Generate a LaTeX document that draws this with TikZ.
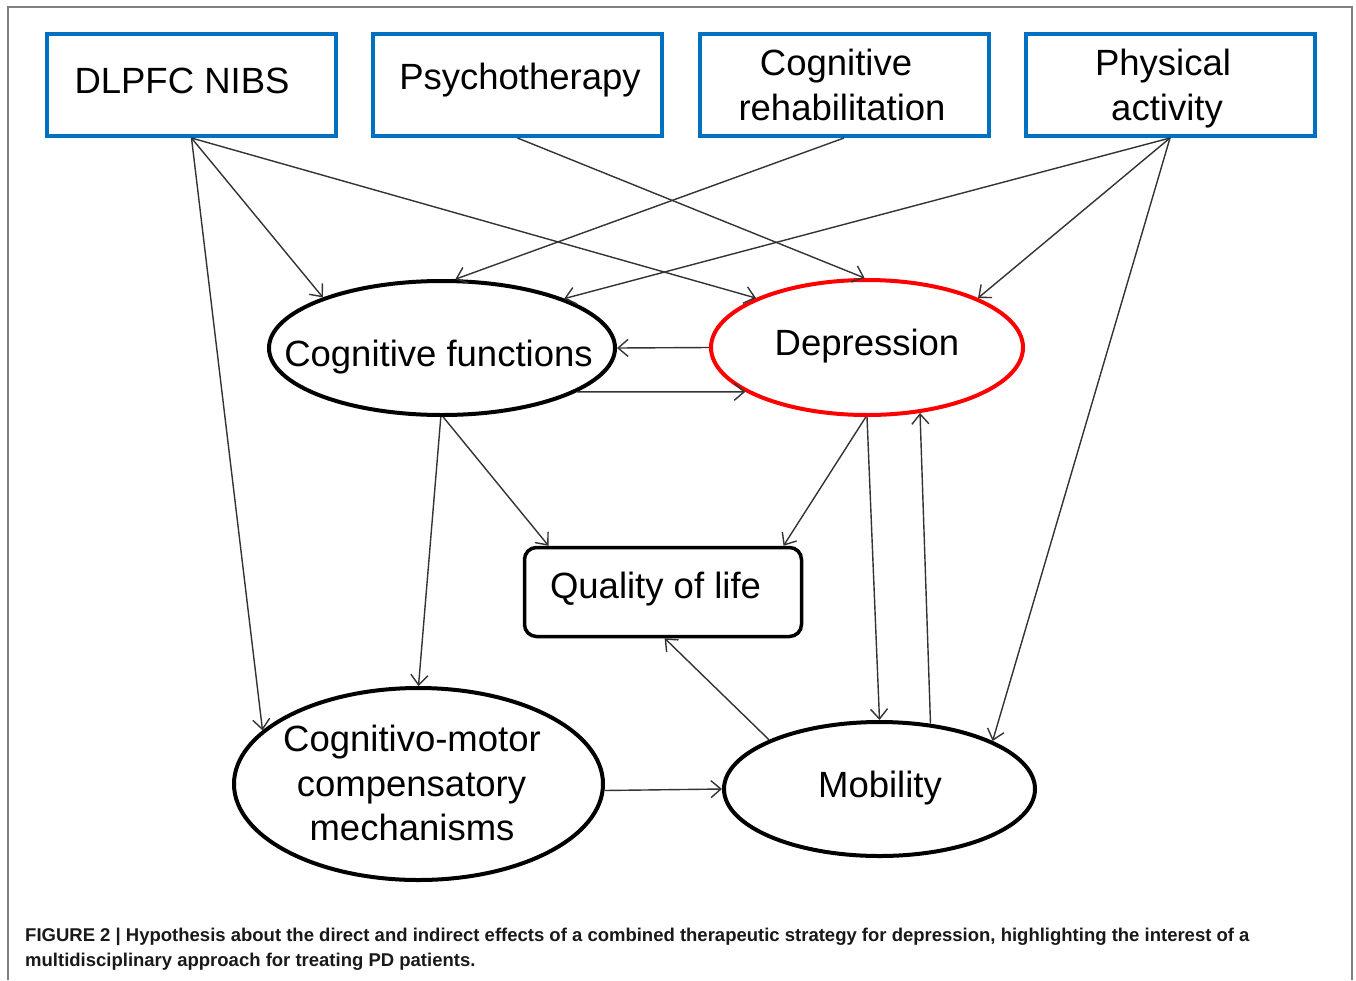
\documentclass[tikz,border=0pt]{standalone}
\usepackage{fontspec}
\setmainfont{Liberation Sans}
\usetikzlibrary{shapes.geometric,arrows.meta}
\definecolor{boxblue}{HTML}{0070C0}
\definecolor{arr}{HTML}{333333}
\begin{document}
\begin{tikzpicture}[x=1pt,y=-1pt,
  bbox/.style={draw=boxblue,line width=4pt,minimum width=289pt,minimum height=102pt,inner sep=0pt},
  ell/.style={ellipse,draw=black,line width=4pt,inner sep=0pt},
  lbl/.style={anchor=base,inner sep=0pt,font=\fontsize{36.5}{45}\selectfont},
  caplbl/.style={anchor=base west,inner sep=0pt,font=\bfseries\fontsize{18.5}{25}\selectfont,text=black!90},
  conn/.style={draw=arr,line width=1.4pt,-{Straight Barb[length=10pt,width=17pt]}}]
\useasboundingbox (0,0) rectangle (1356,980);
\fill[white] (0,0) rectangle (1356,980);
\draw[gray,line width=1.5pt] (8,980) -- (8,7) -- (1352,7) -- (1352,980);

% top boxes
\node[bbox] (dl) at (191.5,85) {};
\node[bbox] (ps) at (517.5,85) {};
\node[bbox] (cr) at (844,85) {};
\node[bbox] (pa) at (1170,85) {};
\node[lbl] (tdl) at (182,93) {DLPFC NIBS};
\node[lbl] (tps) at (520,89) {Psychotherapy};
\node[lbl] (tcr1) at (836,75) {Cognitive};
\node[lbl] (tcr2) at (842,120) {rehabilitation};
\node[lbl] (tpa1) at (1163,75) {Physical};
\node[lbl] (tpa2) at (1167,120) {activity};

% ellipses
\node[ell,minimum width=346pt,minimum height=134pt] (cf) at (442,348) {};
\node[ell,draw=red,minimum width=312pt,minimum height=135pt] (de) at (867,347.5) {};
\node[ell,minimum width=369pt,minimum height=192pt] (cm) at (418.5,784) {};
\node[ell,minimum width=311pt,minimum height=134pt] (mo) at (879.5,789) {};
\node[draw=black,line width=3.5pt,rounded corners=12pt,minimum width=277pt,minimum height=89pt,inner sep=0pt] (ql) at (663,592) {};

\node[lbl] (tcf) at (438.5,366) {Cognitive functions};
\node[lbl] (tde) at (867,355) {Depression};
\node[lbl] (tql) at (655.5,598) {Quality of life};
\node[lbl] (tcm1) at (412,751) {Cognitivo-motor};
\node[lbl] (tcm2) at (411.5,796) {compensatory};
\node[lbl] (tcm3) at (412,840) {mechanisms};
\node[lbl] (tmo) at (880,797) {Mobility};

% connectors
\draw[conn] (dl.south) -- (cf.157.6);
\draw[conn] (dl.south) -- (de.156.5);
\draw[conn] (dl.south) -- (cm.161.4);
\draw[conn] (ps.south) -- (de.92.4);
\draw[conn] (cr.south) -- (cf.79.6);
\draw[conn] (pa.south) -- (cf.22.2);
\draw[conn] (pa.south) -- (de.24.1);
\draw[conn] (pa.south) -- (mo.23.9);
\draw[conn] (de.180) -- (cf.0);
\draw[conn] (cf.-18.8) -- (de.200.9);
\draw[conn] (cf.-89) -- (ql.158.7);
\draw[conn] (cf.-91) -- (cm.90);
\draw[conn] (de.-91) -- (ql.21.5);
\draw[conn] (de.-90) -- (mo.90);
\draw[conn] (mo.52) -- (de.-51);
\draw[conn] (mo.156.5) -- (ql.-88);
\draw[conn] (cm.-2) -- (mo.180);

% caption
\node[caplbl] (cap1) at (25,941) {FIGURE 2 | Hypothesis about the direct and indirect effects of a combined therapeutic strategy for depression, highlighting the interest of a};
\node[caplbl] (cap2) at (25,966) {multidisciplinary approach for treating PD patients.};
\end{tikzpicture}
\end{document}
